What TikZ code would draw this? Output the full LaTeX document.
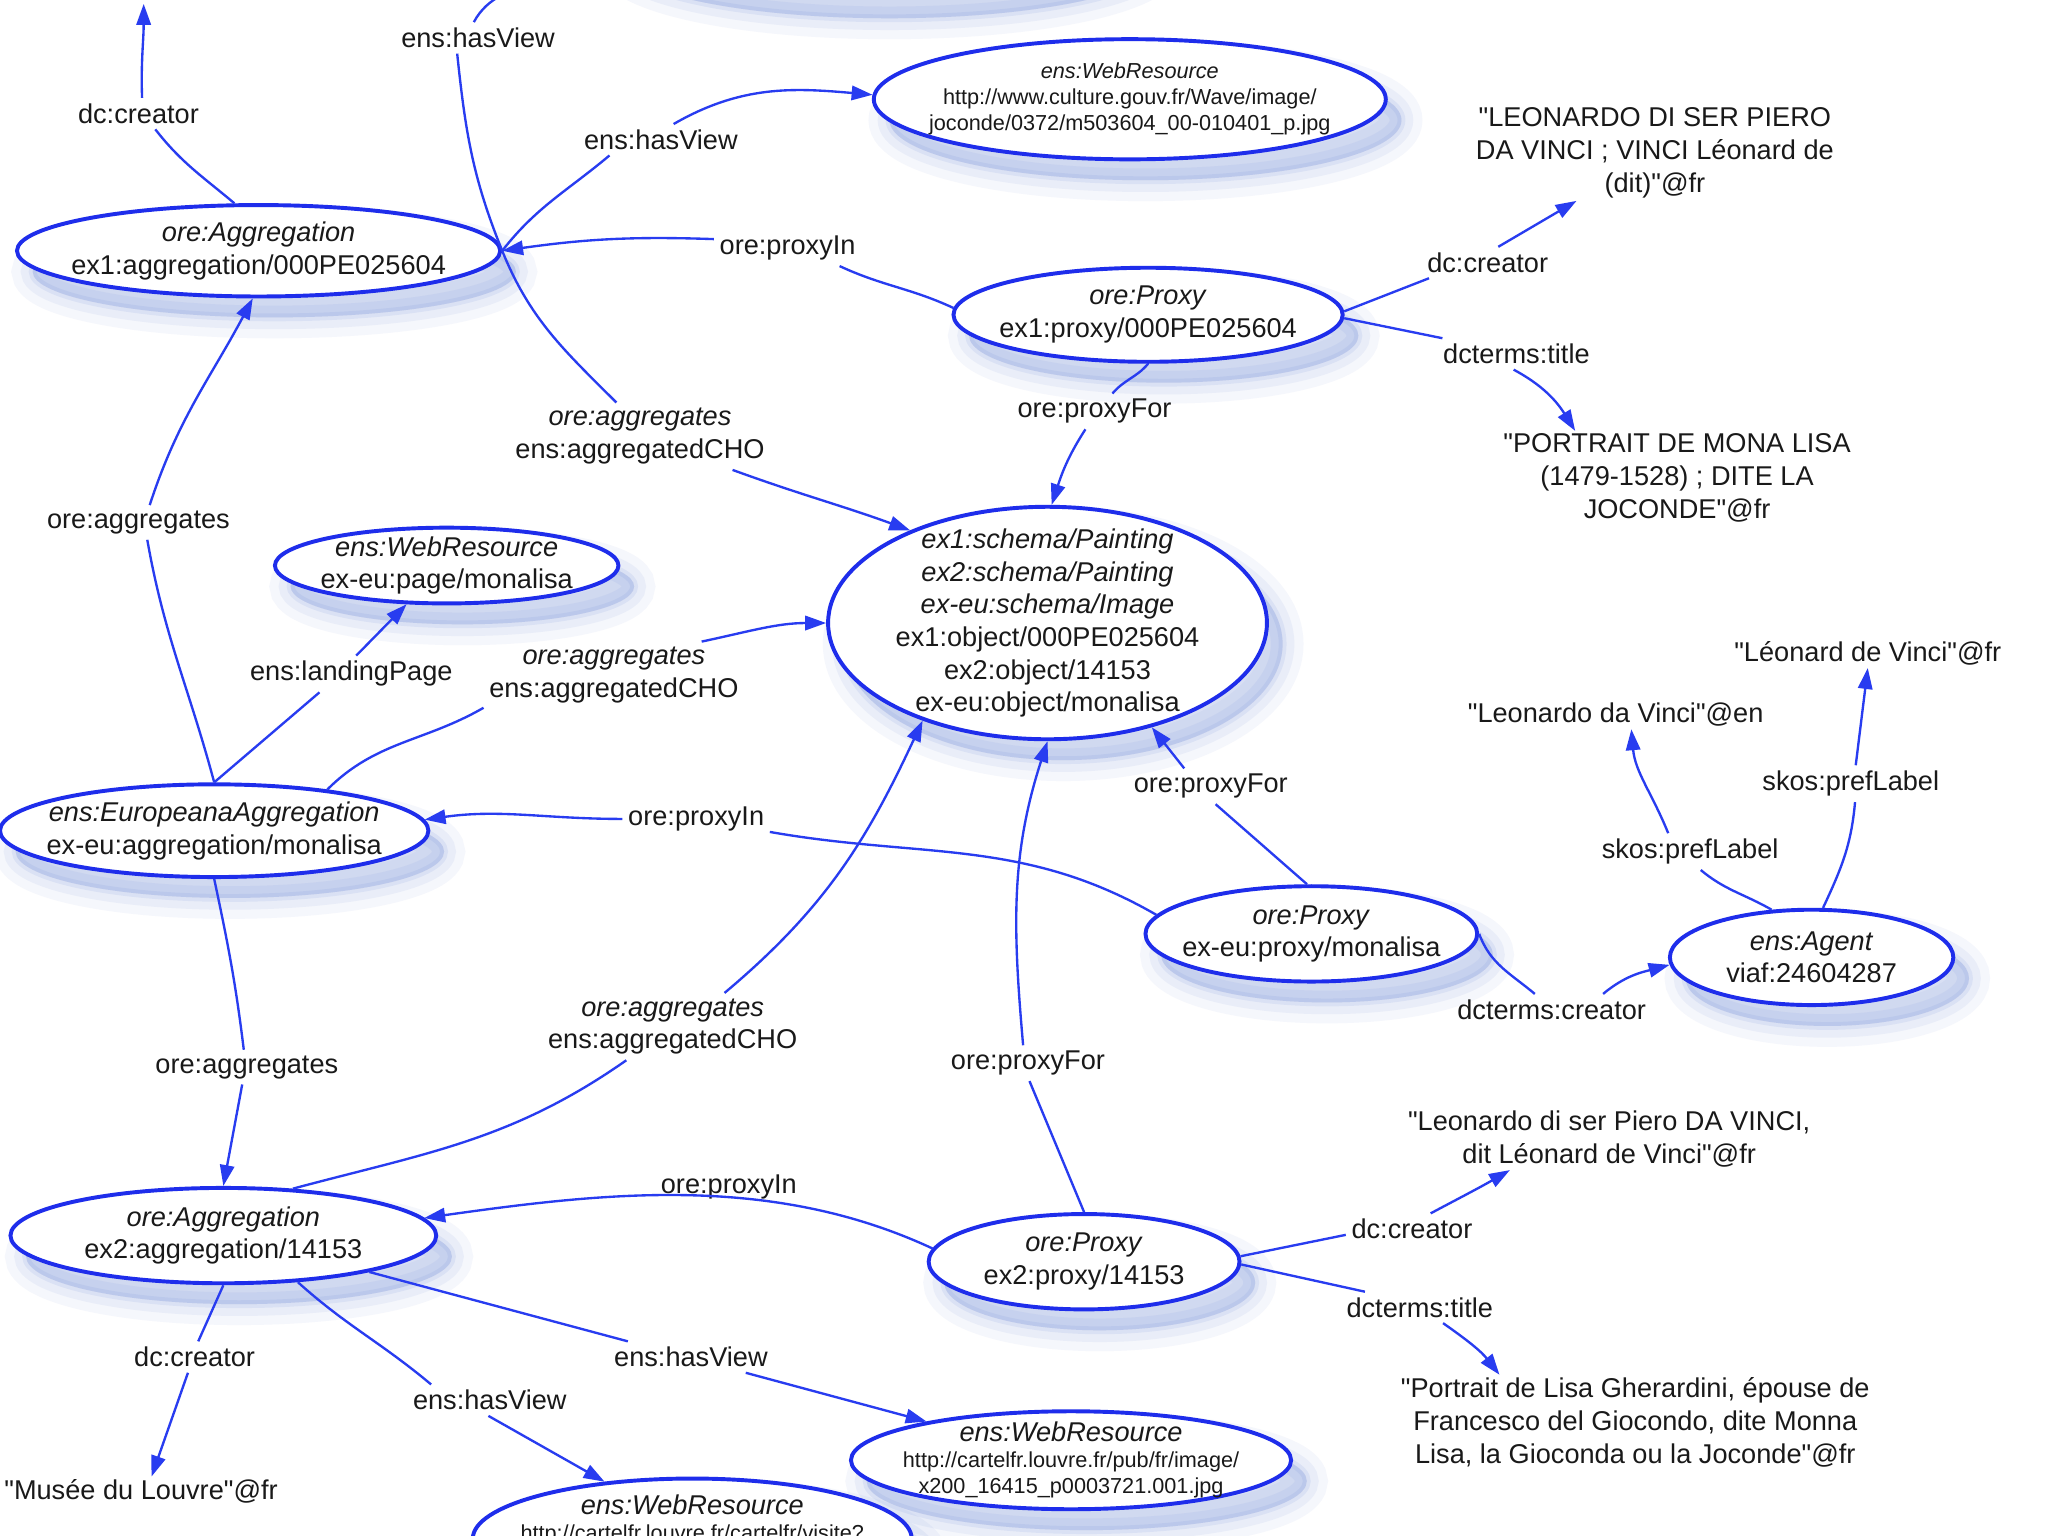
\documentclass[tikz,border=0pt]{standalone}
\usepackage{fontspec}
\setmainfont{Liberation Sans}[Ligatures=TeXOff]
\usepackage{tikz}
\usetikzlibrary{arrows.meta, positioning, shapes.geometric, shadows}
\usepackage{xcolor}
\definecolor{NodeBlue}{RGB}{30,45,235}
\definecolor{EdgeBlue}{RGB}{40,60,240}
\definecolor{ShadowBlue}{RGB}{95,125,210}
\definecolor{InkGray}{RGB}{25,25,25}

\begin{document}
\begin{tikzpicture}[
  x=0.5pt, y=0.5pt,
  font=\fontsize{10.4}{12.5}\selectfont,
  ell/.style 2 args={ellipse, draw=NodeBlue, line width=1.5pt, fill=white, inner sep=0pt, minimum width=#1, minimum height=#2,
    general shadow={fill=ShadowBlue, fill opacity=.06, draw=ShadowBlue, draw opacity=.06, line width=16pt, shadow xshift=6pt, shadow yshift=-8pt},
    general shadow={fill=ShadowBlue, fill opacity=.08, draw=ShadowBlue, draw opacity=.08, line width=9pt, shadow xshift=6pt, shadow yshift=-8pt},
    general shadow={fill=ShadowBlue, fill opacity=.12, draw=ShadowBlue, draw opacity=.1, line width=3pt, shadow xshift=6pt, shadow yshift=-8pt}},
  txt/.style={align=center, text=InkGray, inner sep=0pt},
  small/.style={font=\fontsize{8.3}{10}\selectfont},
  lbl/.style={align=center, text=InkGray, inner sep=2pt},
  lit/.style={align=center, text=InkGray, inner sep=1pt},
  edge/.style={draw=EdgeBlue, line width=.9pt},
  arr/.style={edge, -{Triangle[length=8pt, width=5.5pt]}}
]
  \fill[white] (0,0) rectangle (1568,-1176);
  \useasboundingbox (0,0) rectangle (1568,-1176);
  \clip (0,0) rectangle (1568,-1176);

  % Resources
  \node[ell={210pt}{46pt}] (wrtop) at (669,48) {};
  \node[ell={185pt}{35pt}, label={[txt]center:{\textit{ore:Aggregation}\\ex1:aggregation/000PE025604}}] (agg1) at (198,-192) {};
  \node[ell={196pt}{46pt}, label={[txt,small]center:{\textit{ens:WebResource}\\http://www.culture.gouv.fr/Wave/image/\\joconde/0372/m503604\_00-010401\_p.jpg}}] (wr1) at (865,-76) {};
  \node[ell={149pt}{36pt}, label={[txt]center:{\textit{ore:Proxy}\\ex1:proxy/000PE025604}}] (prx1) at (879,-241) {};
  \node[ell={168pt}{89pt}, label={[txt]center:{\textit{ex1:schema/Painting}\\\textit{ex2:schema/Painting}\\\textit{ex-eu:schema/Image}\\ex1:object/000PE025604\\ex2:object/14153\\ex-eu:object/monalisa}}] (cho) at (802,-477) {};
  \node[ell={131.5pt}{29pt}, label={[txt]center:{\textit{ens:WebResource}\\ex-eu:page/monalisa}}] (wrpage) at (342,-433) {};
  \node[ell={164pt}{35.5pt}, label={[txt]center:{\textit{ens:EuropeanaAggregation}\\ex-eu:aggregation/monalisa}}] (eagg) at (164,-636) {};
  \node[ell={127pt}{36.5pt}, label={[txt]center:{\textit{ore:Proxy}\\ex-eu:proxy/monalisa}}] (prxeu) at (1004,-715) {};
  \node[ell={108.5pt}{36.5pt}, label={[txt]center:{\textit{ens:Agent}\\viaf:24604287}}] (agent) at (1387,-733) {};
  \node[ell={163pt}{36.5pt}, label={[txt]center:{\textit{ore:Aggregation}\\ex2:aggregation/14153}}] (agg2) at (171,-946) {};
  \node[ell={119pt}{36.5pt}, label={[txt]center:{\textit{ore:Proxy}\\ex2:proxy/14153}}] (prx2) at (830,-966) {};
  \node[ell={168.5pt}{37.5pt}, label={[txt,small]center:{{\fontsize{10.4}{10}\selectfont\itshape ens:WebResource}\\http://cartelfr.louvre.fr/pub/fr/image/\\x200\_16415\_p0003721.001.jpg}}] (wrlouvre) at (820,-1118) {};
  \node[ell={168pt}{46pt}, label={[txt,small,yshift=7pt]center:{{\fontsize{10.4}{10}\selectfont\itshape ens:WebResource}\\http://cartelfr.louvre.fr/cartelfr/visite?}}] (wrcart) at (530,-1178) {};
  \coordinate (crtop) at (110,-3);

  % Literals
  \node[lit] (lc1) at (1267,-117) {"LEONARDO DI SER PIERO\\DA VINCI ; VINCI Léonard de\\(dit)"@fr};
  \node[lit] (lt1) at (1284,-366) {"PORTRAIT DE MONA LISA\\(1479-1528) ; DITE LA\\JOCONDE"@fr};
  \node[lit] (len) at (1237,-547) {"Leonardo da Vinci"@en};
  \node[lit] (lfr) at (1430,-500) {"Léonard de Vinci"@fr};
  \node[lit] (lc2) at (1232,-872) {"Leonardo di ser Piero DA VINCI,\\dit Léonard de Vinci"@fr};
  \node[lit] (lt2) at (1252,-1089) {"Portrait de Lisa Gherardini, épouse de\\Francesco del Giocondo, dite Monna\\Lisa, la Gioconda ou la Joconde"@fr};
  \node[lit] (llouvre) at (108,-1142) {"Musée du Louvre"@fr};

  % Property labels
  \node[lbl] (cr1) at (106,-87) {dc:creator};
  \node[lbl] (hv1) at (366,-29) {ens:hasView};
  \node[lbl] (hv2) at (506,-107) {ens:hasView};
  \node[lbl] (pin1) at (603,-190) {ore:proxyIn};
  \node[lbl] (ag1) at (490,-334) {\textit{ore:aggregates}\\ens:aggregatedCHO};
  \node[lbl] (pf1) at (838,-315) {ore:proxyFor};
  \node[lbl] (cr2) at (1139,-201) {dc:creator};
  \node[lbl] (ti1) at (1161,-271) {dcterms:title};
  \node[lbl] (ag2) at (106,-400) {ore:aggregates};
  \node[lbl] (land) at (269,-516) {ens:landingPage};
  \node[lbl] (ag3) at (470,-517) {\textit{ore:aggregates}\\ens:aggregatedCHO};
  \node[lbl] (pin2) at (533,-627) {ore:proxyIn};
  \node[lbl] (pf2) at (927,-602) {ore:proxyFor};
  \node[lbl] (dcr) at (1188,-773) {dcterms:creator};
  \node[lbl] (pl1) at (1294,-652) {skos:prefLabel};
  \node[lbl] (pl2) at (1417,-600) {skos:prefLabel};
  \node[lbl] (ag4) at (189,-817) {ore:aggregates};
  \node[lbl] (ag5) at (515,-786) {\textit{ore:aggregates}\\ens:aggregatedCHO};
  \node[lbl] (pf3) at (787,-814) {ore:proxyFor};
  \node[lbl] (pin3) at (558,-909) {ore:proxyIn};
  \node[lbl] (cr3) at (1081,-941) {dc:creator};
  \node[lbl] (ti2) at (1087,-1001) {dcterms:title};
  \node[lbl] (cr4) at (149,-1039) {dc:creator};
  \node[lbl] (hv3) at (375,-1072) {ens:hasView};
  \node[lbl] (hv4) at (529,-1039) {ens:hasView};

  % First aggregation
  \draw[arr] (agg1.117) to[out=140,in=-52] (cr1.-43) (cr1.77) to[out=92,in=-90] (crtop);
  \draw[arr] (agg1.east) to[out=112,in=-84] (hv1.217) (hv1.105) to[out=62,in=250] (wrtop.180);
  \draw[arr] (agg1.east) to[out=52,in=-140] (hv2.197) (hv2.51) to[out=30,in=175] (wr1.179);
  \draw[arr] (agg1.east) to[out=-68,in=135] (ag1.125) (ag1.-20) to[out=-20,in=160] (cho.146);
  \draw[arr] (prx1.178) to[out=155,in=-25] (pin1.-19) (pin1.173) to[out=178,in=8] (agg1.east);
  \draw[arr] (prx1.south) to[out=-130,in=50] (pf1.45) (pf1.243) to[out=-123,in=72] (cho.88);
  \draw[arr] (prx1.1) -- (cr2.195) (cr2.56) -- ([xshift=-30pt]lc1.south);
  \draw[arr] (prx1.-1) -- (ti1.168) (ti1.-100) to[out=-28,in=122] ([xshift=-39pt]lt1.north);

  % Europeana aggregation
  \draw[arr] (eagg.north) to[out=105,in=-80] (ag2.-63) (ag2.57) to[out=72,in=-118] (agg1.263);
  \draw[arr] (eagg.north) -- (land.210) (land.75) -- (wrpage.224);
  \draw[arr] (eagg.20) to[out=45,in=-150] (ag3.194) (ag3.21) to[out=12,in=180] (cho.west);
  \draw[arr] (prxeu.173) to[out=150,in=-10] (pin2.-10) (pin2.180) to[out=180,in=8] (eagg.3);
  \draw[arr] (prxeu.95) -- (pf2.-75) (pf2.146) -- (cho.-45);
  \draw[arr] (prxeu.east) to[out=-70,in=140] (dcr.137) (dcr.17) to[out=40,in=-165] (agent.183);
  \draw[arr] (agent.130) to[out=150,in=-40] (pl1.-60) (pl1.140) to[out=112,in=-85] ([xshift=6pt]len.south);
  \draw[arr] (agent.77) to[out=65,in=-95] (pl2.-77) (pl2.75) -- (lfr.south);

  % Second aggregation
  \draw[arr] (eagg.south) to[out=-78,in=97] (ag4.100) (ag4.255) -- (agg2.north);
  \draw[arr] (agg2.34) to[out=15,in=-145] (ag5.216) (ag5.33) to[out=40,in=-115] (cho.218);
  \draw[arr] (prx2.north) -- (pf3.-85) (pf3.105) to[out=95,in=-108] (cho.south);
  \draw[arr] (prx2.175) to[out=155,in=8,looseness=.9] (agg2.5);
  \draw[arr] (prx2.2) -- (cr3.185) (cr3.40) to[out=28,in=-150] ([xshift=-38pt]lc2.south);
  \draw[arr] (prx2.-1) -- (ti2.164) (ti2.-34) to[out=-35,in=128] ([xshift=-52pt]lt2.north);
  \draw[arr] (agg2.south) -- (cr4.77) (cr4.247) -- ([xshift=4pt]llouvre.north);
  \draw[arr] (agg2.-32) to[out=-42,in=140] (hv3.165) (hv3.-95) -- (wrcart.147);
  \draw[arr] (agg2.-14) -- (hv4.166) (hv4.-16) -- (wrlouvre.165);
\end{tikzpicture}
\end{document}
